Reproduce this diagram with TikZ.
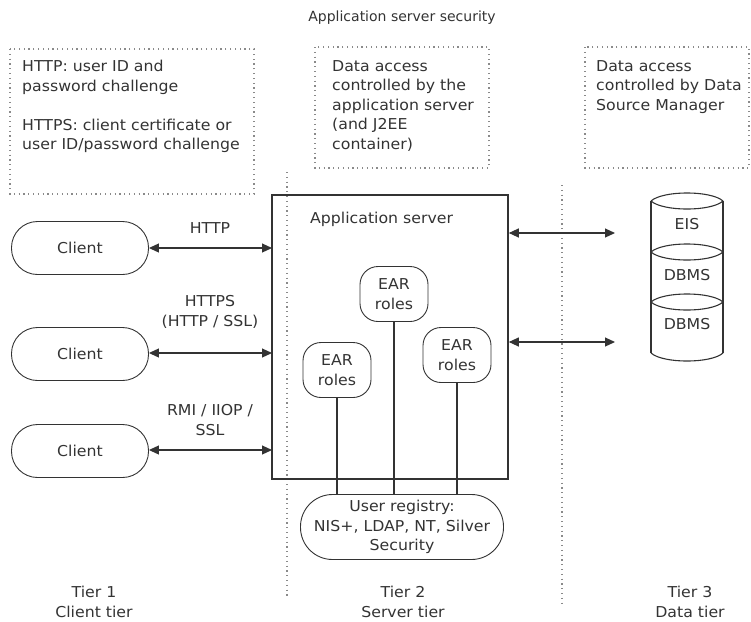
\documentclass[tikz,border=0pt]{standalone}
\usepackage{fontspec}
\setmainfont{DejaVu Sans}[FakeStretch=1.05]
\newfontfamily\titlefont{DejaVu Sans}
\usetikzlibrary{arrows.meta}
\definecolor{ln}{HTML}{333333}
\definecolor{dt}{HTML}{8A8A8A}
\begin{document}
\begin{tikzpicture}[x=1pt,y=-1pt,
  font=\fontsize{15}{19.5}\selectfont, text=ln,
  dotbox/.style={draw=dt, line width=1.2pt, dash pattern=on 1.2pt off 3.6pt},
  dotline/.style={draw=dt, line width=1.2pt, dash pattern=on 1.2pt off 3.6pt},
  client/.style={draw=ln, line width=0.9pt, rounded corners=26pt, minimum width=137pt, minimum height=53pt, inner sep=0pt},
  ear/.style={draw=ln, line width=0.9pt, rounded corners=18pt, minimum width=68pt, minimum height=55pt, inner sep=0pt, align=center},
  reg/.style={draw=ln, line width=0.9pt, rounded corners=32pt, minimum width=203pt, minimum height=65pt, inner sep=0pt, align=center},
  conn/.style={draw=ln, line width=1.1pt, {Triangle[length=10pt,width=9pt]}-{Triangle[length=10pt,width=9pt]}},
  plain/.style={draw=ln, line width=1.1pt},
  lbl/.style={align=center, inner sep=0pt},
  txt/.style={align=left, inner sep=0pt, anchor=north west}]
\useasboundingbox (0,0) rectangle (751,621);

% title
\node[lbl, font=\titlefont\fontsize{14}{19.5}\selectfont] (title) at (402,18) {Application server security};

% dotted text boxes
\draw[dotbox] (10,49) rectangle (254,194);
\node[txt] (t1) at (22,60) {HTTP: user ID and\\password challenge\\[19.5pt]HTTPS: client certificate or\\user ID/password challenge};
\draw[dotbox] (315,47) rectangle (489,168);
\node[txt] (t2) at (332,60) {Data access\\controlled by the\\application server\\(and J2EE\\container)};
\draw[dotbox] (585,47) rectangle (749,168);
\node[txt] (t3) at (596,60) {Data access\\controlled by Data\\Source Manager};

% tier separators
\draw[dotline] (287,172) -- (287,598);
\draw[dotline] (562,185) -- (562,604);

% application server
\node[draw=ln, line width=1.6pt, minimum width=236pt, minimum height=284pt, inner sep=0pt] (app) at (390,337) {};
\node[lbl, anchor=west] (applbl) at (310,219) {Application server};

% clients
\node[client] (c1) at (80,248) {Client};
\node[client] (c2) at (80,354) {Client};
\node[client] (c3) at (80,451) {Client};

\coordinate (a1) at (272,248);
\coordinate (a2) at (272,353);
\coordinate (a3) at (272,450);
\draw[conn] (c1.east |- a1) -- (a1);
\draw[conn] (c2.east |- a2) -- (a2);
\draw[conn] (c3.east |- a3) -- (a3);
\node[lbl] (l1) at (210,228) {HTTP};
\node[lbl] (l2) at (210,312) {HTTPS\\(HTTP / SSL)};
\node[lbl] (l3) at (210,420) {RMI / IIOP /\\SSL};

% EAR roles
\node[ear] (e1) at (337,370) {EAR\\roles};
\node[ear] (e2) at (394,294) {EAR\\roles};
\node[ear] (e3) at (457,355) {EAR\\roles};

% user registry
\node[reg] (reg) at (402,527) {User registry:\\NIS+, LDAP, NT, Silver\\Security};
\draw[plain] (e1.south) -- (e1.south |- reg.north);
\draw[plain] (e2.south) -- (e2.south |- reg.north);
\draw[plain] (e3.south) -- (e3.south |- reg.north);

% database stack
\def\cyL{651}\def\cyR{723}\def\cyM{687}
\draw[ln, line width=1.1pt] (\cyL,201) -- (\cyL,353) (\cyR,201) -- (\cyR,353);
\foreach \yy in {201,252,302}{
  \draw[ln, line width=1.1pt] (\cyL,\yy) .. controls (\cyL+12,\yy-10.7) and (\cyR-12,\yy-10.7) .. (\cyR,\yy);
  \draw[ln, line width=1.1pt] (\cyL,\yy) .. controls (\cyL+12,\yy+10.7) and (\cyR-12,\yy+10.7) .. (\cyR,\yy);
}
\draw[ln, line width=1.1pt] (\cyL,353) .. controls (\cyL+12,363.7) and (\cyR-12,363.7) .. (\cyR,353);
\node[lbl] (eis) at (\cyM,224) {EIS};
\node[lbl] (db1) at (\cyM,275) {DBMS};
\node[lbl] (db2) at (\cyM,324) {DBMS};

\coordinate (r1) at (615,233);
\coordinate (r2) at (615,342);
\draw[conn] (app.east |- r1) -- (r1);
\draw[conn] (app.east |- r2) -- (r2);

% tier labels
\node[lbl] (tier1) at (94,602) {Tier 1\\Client tier};
\node[lbl] (tier2) at (403,602) {Tier 2\\Server tier};
\node[lbl] (tier3) at (690,602) {Tier 3\\Data tier};
\end{tikzpicture}
\end{document}
